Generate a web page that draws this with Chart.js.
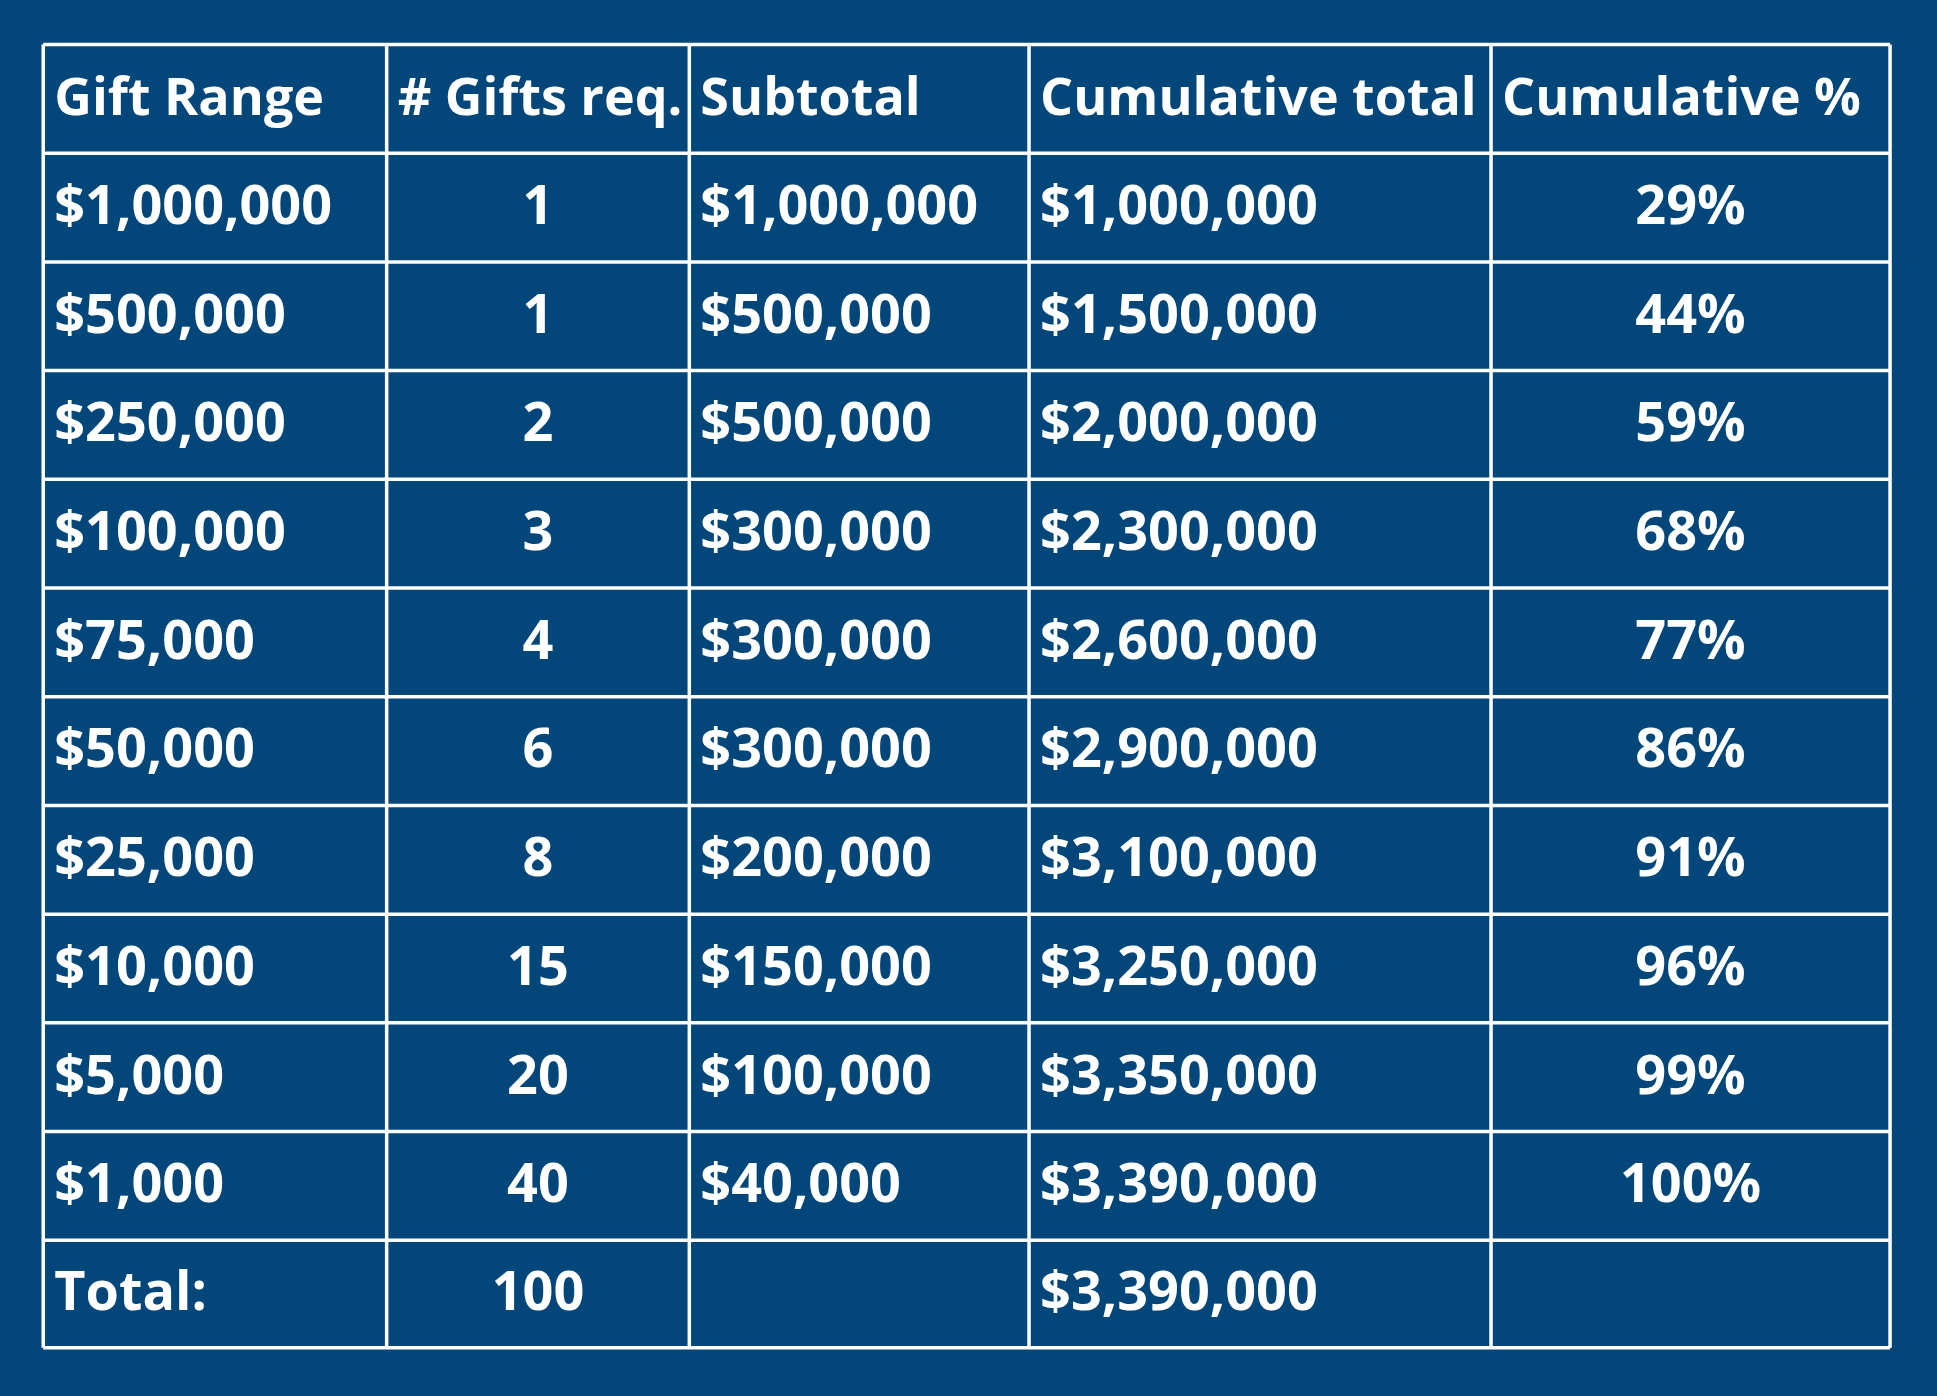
<!DOCTYPE html>
<html><head><meta charset="utf-8">
<script src="https://cdn.jsdelivr.net/npm/chart.js@4"></script>
<style>html,body{margin:0;padding:0;background:#02467a;overflow:hidden}#c{display:block}</style>
</head><body><canvas id="c" width="1937" height="1396"></canvas>
<script>
const headers = ["Gift Range", "# Gifts req.", "Subtotal", "Cumulative total", "Cumulative %"];
const giftRange = [1000000, 500000, 250000, 100000, 75000, 50000, 25000, 10000, 5000, 1000];
const giftsReq = [1, 1, 2, 3, 4, 6, 8, 15, 20, 40];
const subtotal = [1000000, 500000, 500000, 300000, 300000, 300000, 200000, 150000, 100000, 40000];
const cumTotal = [1000000, 1500000, 2000000, 2300000, 2600000, 2900000, 3100000, 3250000, 3350000, 3390000];
const cumPct = [29, 44, 59, 68, 77, 86, 91, 96, 99, 100];
const totalLabel = "Total:", totalGifts = 100, totalAmount = 3390000;

const colEdges = [35, 313, 558, 833, 1207, 1530];
const rowEdges = [36, 124, 212, 300, 388, 476, 564, 652, 740, 828, 916, 1004, 1091];
const money = v => "$" + v.toLocaleString("en-US");

const rows = [headers];
for (let i = 0; i < giftRange.length; i++)
  rows.push([money(giftRange[i]), String(giftsReq[i]), money(subtotal[i]), money(cumTotal[i]), cumPct[i] + "%"]);
rows.push([totalLabel, String(totalGifts), "", money(totalAmount), ""]);
const centered = [false, true, false, false, true];

const tablePlugin = {
  id: "table",
  afterDraw(chart) {
    const ctx = chart.ctx, xs = chart.scales.x, ys = chart.scales.y;
    const X = v => xs.getPixelForValue(v), Y = v => ys.getPixelForValue(v);
    ctx.save();
    ctx.strokeStyle = "#ffffff"; ctx.lineWidth = 3.5;
    colEdges.forEach(c => { ctx.beginPath(); ctx.moveTo(X(c), Y(rowEdges[0])); ctx.lineTo(X(c), Y(rowEdges[rowEdges.length-1])); ctx.stroke(); });
    rowEdges.forEach(r => { ctx.beginPath(); ctx.moveTo(X(colEdges[0]), Y(r)); ctx.lineTo(X(colEdges[colEdges.length-1]), Y(r)); ctx.stroke(); });
    ctx.fillStyle = "#ffffff";
    ctx.textBaseline = "middle";
    rows.forEach((row, r) => {
      ctx.font = r === 0 ? "bold 52px 'Open Sans'" : "bold 54px 'Open Sans'";
      const yc = (Y(rowEdges[r]) + Y(rowEdges[r+1])) / 2 + 1;
      row.forEach((t, c) => {
        if (!t) return;
        if (centered[c] && r > 0) {
          ctx.textAlign = "center";
          ctx.fillText(t, (X(colEdges[c]) + X(colEdges[c+1])) / 2, yc);
        } else {
          ctx.textAlign = "left";
          ctx.fillText(t, X(colEdges[c]) + 11, yc);
        }
      });
    });
    ctx.restore();
  }
};

const s = 1937 / 1568;
new Chart(document.getElementById("c"), {
  type: "scatter",
  data: { datasets: [{ data: [] }] },
  options: {
    responsive: false, animation: false,
    layout: { padding: { left: 35*s, right: 1937 - 1530*s, top: 36*s, bottom: 1396 - 1091*s } },
    plugins: { legend: { display: false }, tooltip: { enabled: false } },
    scales: {
      x: { type: "linear", min: 35, max: 1530, display: false },
      y: { type: "linear", min: 36, max: 1091, reverse: true, display: false }
    }
  },
  plugins: [tablePlugin]
});
</script></body></html>
